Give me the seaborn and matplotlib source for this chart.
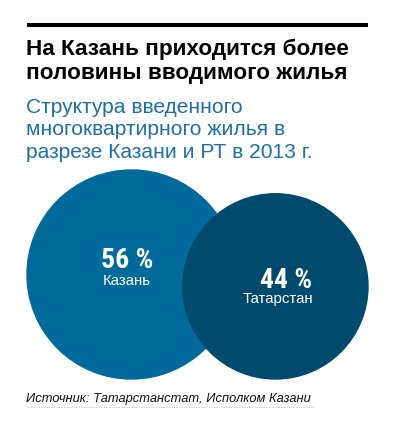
import numpy as np
import seaborn as sns
import matplotlib.pyplot as plt
from matplotlib.patches import Circle

# Data
regions = ["Казань", "Татарстан"]
shares = [56, 44]
share_labels = ["56 %", "44 %"]
colors = ["#006A9B", "#004B6D"]

title_lines = ["На Казань приходится более", "половины вводимого жилья"]
subtitle_lines = ["Структура введенного", "многоквартирного жилья в", "разрезе Казани и РТ в 2013 г."]
source = "Источник: Татарстанстат, Исполком Казани"

sns.set_style("white")
plt.rcParams['font.family'] = ['Liberation Sans', 'DejaVu Sans']

fig = plt.figure(figsize=(3.98, 4.32), dpi=100)
ax = fig.add_axes([0, 0, 1, 1])
ax.set_xlim(0, 398)
ax.set_ylim(432, 0)
ax.set_aspect("equal")
ax.axis("off")

# top rule
ax.plot([27, 368], [24.7, 24.7], color="black", lw=2.9, solid_capstyle="butt")

for i, line in enumerate(title_lines):
    ax.text(26, 55 + 24.5 * i, line, fontsize=16.2, fontweight="bold", color="black",
            va="baseline")
for i, line in enumerate(subtitle_lines):
    ax.text(26, 112.7 + 22.7 * i, line, fontsize=15.1, color="#1F6FA5", va="baseline")

# circles: area proportional to share, bottoms aligned
k = 104.5 / np.sqrt(shares[0])
radii = [k * np.sqrt(s) for s in shares]
base = 379
cx = [27 + radii[0], 368 - radii[1]]
for i in range(len(shares)):
    cy = base - radii[i]
    ax.add_patch(Circle((cx[i], cy), radii[i], color=colors[i], zorder=2 + i))

label_pos = [(127, 268, 285), (286, 288, 303.5)]
for i, (x, y1, y2) in enumerate(label_pos):
    ax.text(x, y1, share_labels[i], fontsize=20, fontweight="bold", color="white",
            ha="center", va="baseline", zorder=5,
            family=["Roboto Condensed", "Liberation Sans"])
    ax.text(x - (8 if i else 0), y2, regions[i], fontsize=10.8, color="white",
            ha="center", va="baseline", zorder=5)

ax.text(26, 401.7, source, fontsize=9.3, style="italic", color="#111111", va="baseline")
ax.plot([27, 313], [406.5, 406.5], color="#bbbbbb", lw=0.6, ls=(0, (1, 1)))

fig.savefig("out.png", dpi=100)
